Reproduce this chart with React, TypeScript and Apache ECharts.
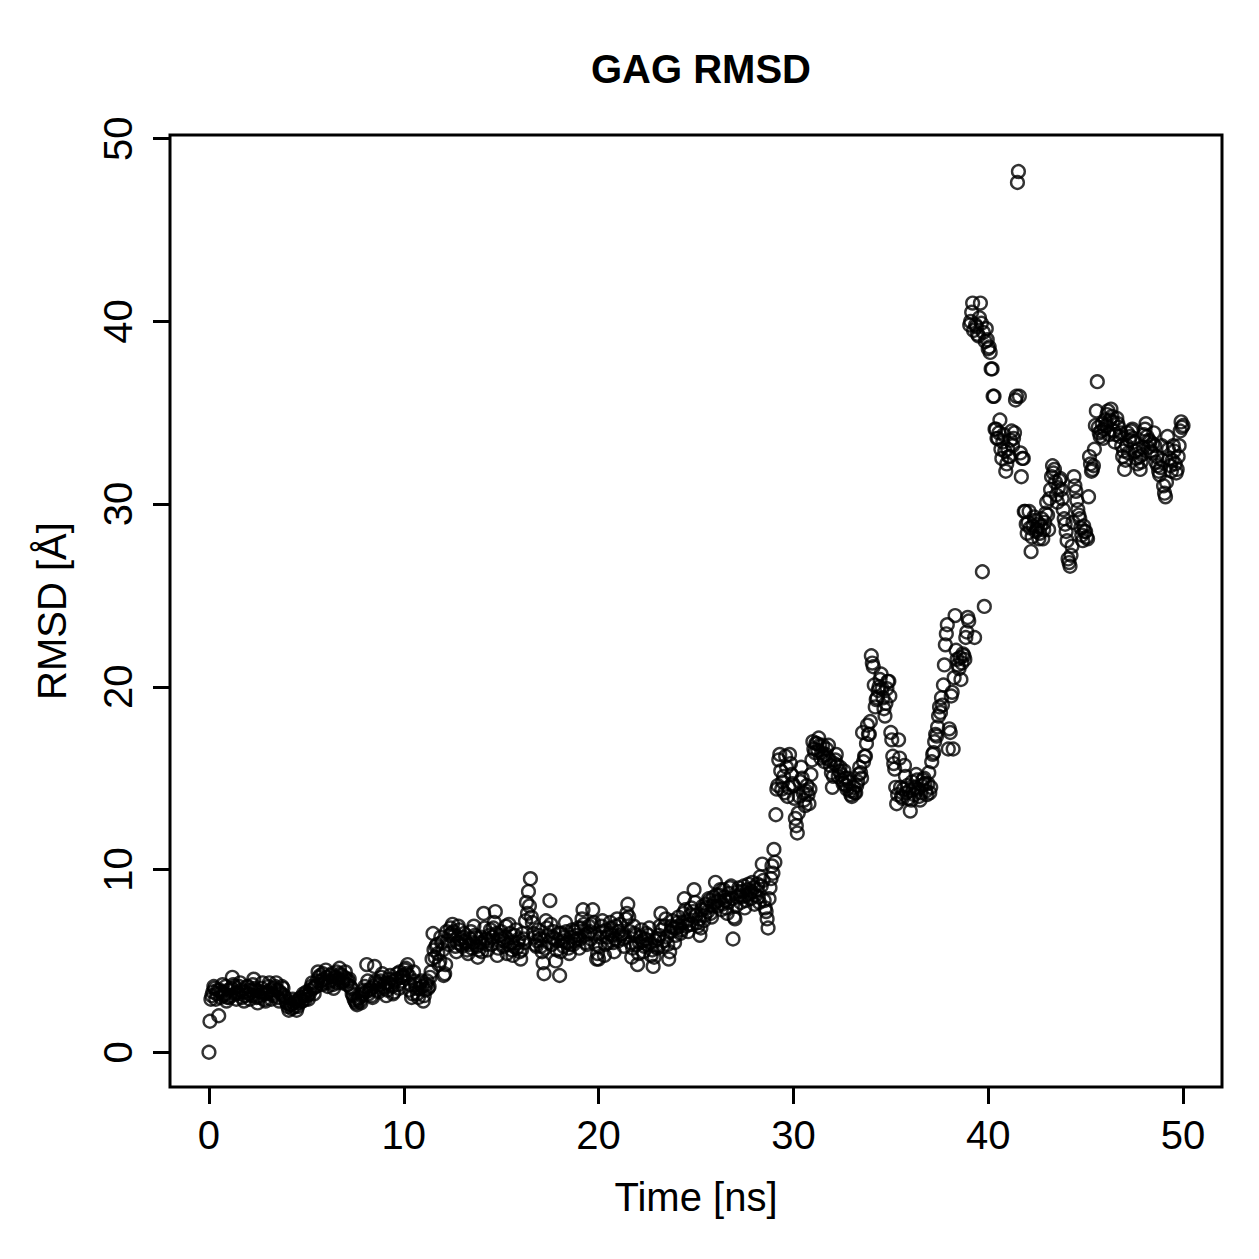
import React, { useEffect, useRef } from "react";
import * as echarts from "echarts";

// RMSD of the GAG chain over a 50 ns trajectory, one frame every 0.05 ns
const TIME_STEP = 0.05;

const rmsd0to10 = [
  0.0, 1.7, 2.9, 3.1, 3.3, 3.6, 3.5, 2.9, 3.2, 3.4, 2.0, 3.4, 3.0, 3.3, 3.7, 3.1, 3.2, 3.6, 2.8, 3.0,
  3.4, 3.0, 3.1, 3.5, 4.1, 3.7, 3.6, 3.2, 2.9, 3.3, 3.2, 3.6, 3.8, 3.4, 3.0, 3.3, 2.8, 3.1, 3.3, 3.6,
  3.6, 3.2, 2.9, 3.4, 3.1, 3.7, 4.0, 3.5, 3.4, 3.0, 2.7, 3.1, 3.0, 3.3, 3.5, 3.8, 3.2, 2.9, 2.8, 3.2,
  3.3, 3.6, 3.8, 3.4, 2.9, 3.2, 3.1, 3.5, 3.6, 3.8, 3.4, 3.0, 2.8, 3.3, 3.2, 3.6, 3.5, 3.1, 3.0, 2.8,
  2.7, 2.5, 2.3, 2.6, 2.6, 2.4, 2.9, 2.7, 2.5, 2.8, 2.3, 2.5, 2.7, 2.9, 3.0, 2.8, 2.8, 3.2, 3.1, 2.9,
  3.3, 3.1, 2.9, 3.2, 3.4, 3.6, 3.8, 3.5, 3.2, 3.6, 3.6, 3.9, 4.4, 4.1, 4.2, 3.9, 3.7, 4.3, 4.0, 3.8,
  4.5, 4.1, 3.6, 3.8, 3.9, 4.2, 4.3, 3.7, 3.5, 3.9, 4.1, 4.4, 3.8, 4.0, 4.6, 4.3, 4.2, 3.8, 3.9, 4.1,
  4.4, 4.0, 3.7, 3.9, 4.0, 3.6, 3.5, 3.2, 3.1, 2.9, 2.8, 2.7, 2.6, 2.9, 3.0, 2.8, 2.7, 3.1, 3.2, 3.4,
  3.6, 3.3, 4.8, 3.9, 3.2, 3.4, 3.5, 3.1, 3.0, 3.6, 4.7, 3.9, 3.8, 3.4, 3.3, 3.7, 3.9, 4.1, 4.3, 3.6,
  3.5, 3.8, 3.1, 3.4, 3.8, 4.0, 4.2, 3.7, 3.6, 3.2, 3.3, 3.9, 4.0, 4.3, 3.7, 3.5, 4.4, 4.1, 3.9, 4.2,
];

const rmsd10to20 = [
  4.1, 4.5, 4.6, 4.3, 4.8, 4.2, 3.4, 3.7, 3.0, 3.2, 4.4, 3.9, 3.7, 3.5, 3.2, 3.0, 3.5, 3.8, 3.9, 3.6,
  2.8, 3.1, 3.4, 3.7, 3.9, 3.5, 3.6, 4.1, 4.4, 5.1, 6.5, 5.6, 5.2, 5.8, 5.9, 5.4, 4.8, 5.0, 6.3, 6.0,
  5.6, 4.2, 4.3, 4.8, 6.6, 6.1, 5.9, 6.4, 6.8, 6.5, 7.0, 6.6, 6.4, 5.8, 5.5, 6.0, 6.9, 6.7, 6.2, 5.9,
  5.8, 6.3, 6.5, 6.1, 6.0, 5.6, 5.4, 5.9, 6.2, 6.6, 5.7, 6.0, 6.9, 6.4, 6.3, 5.8, 5.2, 5.6, 6.0, 6.3,
  5.5, 6.0, 7.6, 6.8, 6.2, 5.9, 5.6, 6.1, 6.4, 6.7, 5.9, 6.3, 6.8, 7.1, 7.7, 6.5, 5.3, 5.7, 6.1, 6.4,
  6.6, 6.2, 5.8, 6.1, 6.3, 6.9, 5.4, 5.9, 7.0, 6.5, 6.0, 5.6, 5.3, 5.8, 6.4, 6.7, 5.7, 6.0, 6.2, 5.5,
  5.1, 5.6, 6.5, 6.2, 6.0, 7.2, 8.2, 7.6, 8.8, 8.0, 9.5, 7.4, 7.1, 6.5, 6.3, 5.9, 5.8, 6.1, 6.7, 6.4,
  6.2, 5.8, 5.5, 4.9, 4.3, 5.7, 7.2, 6.8, 6.4, 6.0, 8.3, 7.0, 5.9, 6.3, 6.6, 6.2, 5.0, 5.6, 6.1, 6.5,
  4.2, 5.5, 6.5, 6.1, 5.8, 6.3, 7.1, 6.6, 6.0, 5.7, 5.4, 5.9, 6.3, 6.7, 5.9, 6.1, 6.6, 6.4, 6.2, 6.8,
  5.7, 6.2, 6.8, 7.3, 7.8, 7.0, 6.4, 6.0, 5.9, 6.5, 6.9, 6.6, 6.2, 7.0, 7.8, 7.1, 6.5, 5.9, 5.1, 5.4,
];

const rmsd20to30 = [
  5.1, 5.8, 6.3, 6.9, 7.2, 6.6, 5.3, 5.9, 6.7, 6.3, 6.0, 6.5, 7.1, 6.8, 6.4, 6.0, 5.5, 6.2, 6.9, 7.3,
  6.1, 6.6, 7.0, 6.4, 6.5, 6.2, 5.8, 6.3, 7.3, 7.6, 8.1, 7.4, 6.6, 6.0, 5.2, 5.7, 6.9, 6.5, 6.4, 5.9,
  4.8, 5.4, 6.0, 6.3, 6.7, 6.1, 5.5, 5.8, 6.2, 6.5, 5.9, 6.4, 6.8, 6.0, 5.3, 5.6, 4.7, 5.2, 6.1, 5.8,
  5.7, 6.2, 6.4, 6.9, 7.6, 6.7, 5.8, 6.1, 6.9, 7.3, 6.3, 5.9, 5.1, 5.5, 6.6, 6.9, 7.2, 6.8, 6.0, 6.4,
  6.8, 7.1, 7.4, 6.9, 6.5, 6.7, 7.1, 7.6, 8.4, 7.8, 6.9, 7.2, 6.6, 7.0, 7.5, 7.9, 7.0, 7.7, 8.9, 8.2,
  7.5, 7.1, 6.9, 7.3, 6.4, 6.8, 7.8, 8.0, 7.2, 7.5, 8.1, 7.9, 7.7, 8.4, 8.3, 7.6, 7.4, 8.0, 8.5, 8.2,
  9.3, 8.6, 8.0, 8.3, 8.6, 8.9, 7.8, 8.1, 8.9, 8.5, 8.3, 7.9, 7.6, 8.2, 8.7, 9.0, 9.1, 8.4, 6.2, 7.4,
  7.3, 8.0, 8.5, 8.8, 9.0, 8.6, 8.2, 8.5, 8.8, 9.1, 7.9, 8.3, 8.6, 8.9, 9.2, 8.7, 8.4, 8.8, 9.3, 9.0,
  8.1, 8.6, 8.9, 9.2, 8.5, 8.2, 9.6, 9.1, 10.3, 9.4, 8.3, 7.9, 7.7, 7.3, 6.8, 8.4, 9.0, 9.5, 10.2, 9.8,
  11.1, 10.4, 13.0, 14.4, 14.6, 16.0, 16.3, 15.4, 14.4, 14.8, 15.1, 14.2, 16.2, 15.6, 14.0, 14.5, 16.3, 15.8, 15.2, 14.7,
];

const rmsd30to40 = [
  14.6, 13.9, 12.8, 12.4, 12.0, 13.1, 14.0, 14.8, 15.6, 15.0, 14.2, 13.8, 13.5, 14.3, 14.6, 14.1, 13.6, 14.4, 15.2, 16.0,
  17.0, 16.6, 16.4, 16.9, 16.9, 16.5, 17.2, 16.8, 16.1, 16.4, 16.8, 16.2, 15.9, 16.3, 16.6, 16.1, 16.8, 16.0, 15.7, 15.3,
  14.5, 15.1, 15.8, 16.0, 16.3, 15.7, 15.1, 15.4, 15.6, 15.2, 14.9, 14.7, 15.4, 15.0, 14.6, 14.4, 15.0, 14.8, 14.3, 14.1,
  14.0, 14.3, 14.5, 14.2, 14.2, 14.6, 14.8, 15.2, 15.6, 15.3, 15.0, 17.5, 15.9, 16.2, 16.2, 16.9, 17.9, 17.4, 17.4, 18.1,
  21.7, 21.3, 21.1, 20.1, 18.9, 19.3, 19.4, 19.8, 20.0, 20.4, 20.7, 19.9, 19.4, 18.8, 18.4, 19.1, 19.9, 20.3, 20.3, 19.5,
  17.5, 17.1, 16.2, 15.8, 15.5, 14.5, 13.6, 14.1, 17.1, 16.1, 14.5, 14.0, 13.9, 14.4, 15.7, 15.1, 14.2, 14.6, 13.9, 14.3,
  13.2, 13.8, 14.8, 14.4, 14.1, 14.5, 15.2, 14.9, 14.4, 14.0, 13.8, 14.2, 14.6, 14.9, 15.0, 14.7, 14.3, 14.1, 14.7, 15.3,
  14.2, 14.5, 15.9, 16.3, 16.4, 17.0, 17.4, 17.3, 17.8, 18.4, 18.9, 18.6, 19.4, 19.0, 20.1, 21.2, 22.3, 22.9, 23.4, 16.6,
  17.7, 17.5, 19.5, 19.7, 16.6, 20.5, 23.9, 22.0, 21.5, 21.2, 21.0, 21.6, 20.4, 21.3, 21.8, 21.7, 21.5, 22.7, 23.0, 23.8,
  23.6, 39.8, 40.0, 40.5, 41.0, 39.5, 22.7, 39.8, 39.7, 39.3, 39.2, 40.2, 41.0, 39.9, 26.3, 39.4, 24.4, 38.9, 39.6, 39.0,
];

const rmsd40to50 = [
  38.5, 38.6, 38.3, 37.4, 37.4, 35.9, 35.9, 34.1, 34.1, 33.6, 33.6, 33.9, 34.6, 33.0, 32.5, 33.4, 33.8, 32.9, 31.8, 32.2,
  33.0, 32.6, 32.6, 33.5, 34.0, 33.2, 33.6, 33.9, 35.7, 35.9, 47.6, 48.2, 35.9, 32.8, 31.5, 32.5, 32.5, 29.6, 29.6, 28.9,
  28.4, 29.0, 29.6, 28.7, 27.4, 28.2, 28.8, 29.3, 29.1, 28.5, 28.6, 28.9, 28.1, 28.4, 28.8, 29.2, 28.1, 28.6, 29.0, 29.5,
  30.1, 29.4, 28.6, 30.3, 30.8, 31.5, 32.1, 31.7, 31.9, 31.2, 30.5, 30.1, 30.9, 31.3, 31.4, 30.8, 30.3, 29.7, 29.2, 28.9,
  28.5, 28.0, 27.0, 26.8, 26.6, 27.2, 27.7, 29.0, 31.5, 31.0, 30.7, 30.2, 29.7, 29.4, 29.2, 28.7, 28.3, 28.0, 28.8, 28.5,
  28.5, 28.2, 28.1, 30.4, 32.6, 32.2, 31.8, 31.9, 32.1, 33.0, 34.3, 35.1, 36.7, 34.2, 33.9, 33.7, 34.0, 34.4, 33.6, 34.1,
  34.6, 34.3, 34.9, 35.1, 33.8, 34.6, 35.2, 34.8, 34.5, 34.0, 33.4, 33.8, 34.7, 34.4, 34.2, 33.7, 33.9, 33.2, 32.6, 32.9,
  31.9, 32.4, 33.2, 33.9, 32.8, 33.5, 33.7, 34.0, 34.1, 33.6, 33.4, 32.9, 32.5, 32.2, 33.0, 32.6, 31.9, 32.3, 32.7, 33.1,
  33.8, 34.1, 34.4, 33.7, 33.1, 33.5, 33.4, 32.9, 32.8, 33.3, 33.9, 33.2, 32.3, 32.6, 32.1, 31.8, 31.6, 32.0, 33.2, 32.4,
  31.0, 30.6, 30.4, 31.2, 33.7, 33.0, 32.5, 32.1, 31.8, 32.4, 33.2, 32.9, 32.2, 31.7, 31.9, 32.6, 33.2, 34.0, 34.5, 34.2,
  34.3,
];

const xTickValues = [0, 10, 20, 30, 40, 50];
const yTickValues = [0, 10, 20, 30, 40, 50];

const rmsdValues = [
  ...rmsd0to10,
  ...rmsd10to20,
  ...rmsd20to30,
  ...rmsd30to40,
  ...rmsd40to50,
];

const FONT = "'Liberation Sans', Arial, Helvetica, sans-serif";

export default function App() {
  const ref = useRef<HTMLDivElement>(null);

  useEffect(() => {
    if (!ref.current) return;
    const chart = echarts.init(ref.current, undefined, { renderer: "svg" });

    const points = rmsdValues.map((v, i) => [
      Math.round(i * TIME_STEP * 100) / 100,
      v,
    ]);

    const axisCommon = {
      type: "value" as const,
      axisLine: { show: false, onZero: false },
      splitLine: { show: false },
      axisTick: {
        show: true,
        length: 17,
        lineStyle: { color: "#000", width: 3 },
      },
      nameLocation: "middle" as const,
      nameTextStyle: { fontSize: 40, color: "#000", fontFamily: FONT },
    };

    chart.setOption({
      animation: false,
      backgroundColor: "#fff",
      title: {
        text: "GAG RMSD",
        left: 696,
        top: 44,
        textAlign: "center",
        textStyle: {
          fontSize: 40,
          fontWeight: "bold",
          color: "#000",
          fontFamily: FONT,
        },
      },
      grid: {
        left: 170,
        top: 135,
        width: 1052,
        height: 952,
        show: true,
        borderColor: "#000",
        borderWidth: 3,
        backgroundColor: "transparent",
      },
      xAxis: {
        ...axisCommon,
        min: -2,
        max: 52,
        name: "Time [ns]",
        nameGap: 90,
        axisTick: { ...axisCommon.axisTick, customValues: xTickValues },
        axisLabel: {
          customValues: xTickValues,
          fontSize: 40,
          color: "#000",
          fontFamily: FONT,
          margin: 28,
        },
      },
      yAxis: {
        ...axisCommon,
        min: -1.9,
        max: 50.2,
        name: "RMSD [Å]",
        nameGap: 98,
        axisTick: { ...axisCommon.axisTick, customValues: yTickValues },
        axisLabel: {
          customValues: yTickValues,
          rotate: 90,
          fontSize: 40,
          color: "#000",
          fontFamily: FONT,
          margin: 32,
        },
      },
      series: [
        {
          type: "scatter",
          data: points,
          symbol: "circle",
          symbolSize: 12.8,
          itemStyle: {
            color: "rgba(0,0,0,0)",
            borderColor: "#000",
            borderWidth: 2.4,
          },
          emphasis: { disabled: true },
          silent: true,
        },
      ],
    });

    return () => chart.dispose();
  }, []);

  return (
    <div
      ref={ref}
      style={{
        position: "fixed",
        left: 0,
        top: 0,
        width: 1259,
        height: 1259,
        background: "#fff",
      }}
    />
  );
}
